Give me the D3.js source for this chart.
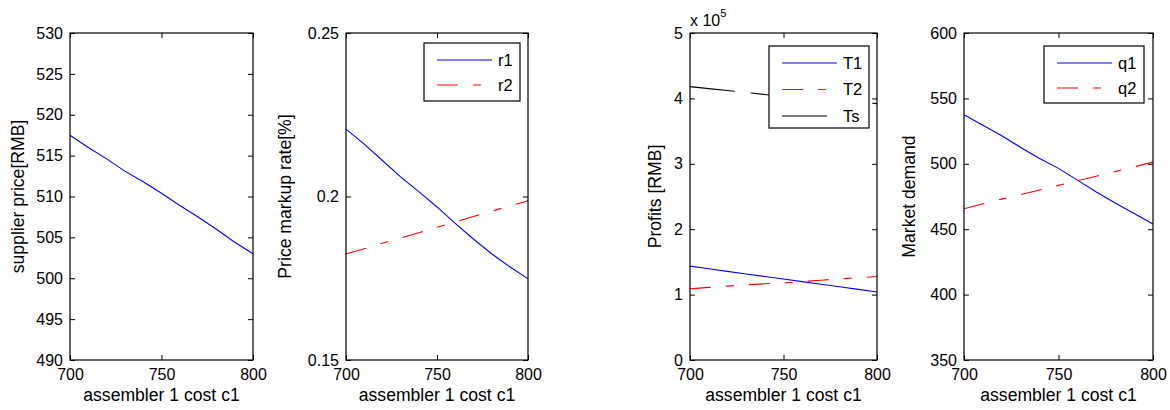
<!DOCTYPE html>
<html>
<head>
<meta charset="utf-8">
<script src="https://cdn.jsdelivr.net/npm/d3@7"></script>
<style>
  body { margin: 0; background: #fff; }
  svg text { font-family: "Liberation Sans", Arial, Helvetica, sans-serif; fill: #000; }
</style>
</head>
<body>
<svg id="chart"></svg>
<script>
// assembler 1 cost c1
const cost = [700, 710, 720, 730, 740, 750, 760, 770, 780, 790, 800]

// supplier price [RMB]
const supplierPrice = [517.5, 516.0, 514.6, 513.1, 511.8, 510.4, 508.9, 507.5, 506.0, 504.4, 503.0]

// price markup rate
const r1 = [0.2206, 0.2160, 0.2110, 0.2060, 0.2015, 0.1968, 0.1918, 0.1870, 0.1825, 0.1785, 0.1748]
const r2 = [0.1824, 0.1840, 0.1857, 0.1873, 0.1889, 0.1906, 0.1922, 0.1939, 0.1955, 0.1971, 0.1987]

// profits, x 10^5 RMB
const T1 = [1.435, 1.395, 1.355, 1.316, 1.277, 1.238, 1.198, 1.158, 1.119, 1.080, 1.040]
const T2 = [1.087, 1.110, 1.130, 1.150, 1.165, 1.180, 1.200, 1.220, 1.240, 1.258, 1.277]
const Ts = [4.18, 4.15, 4.12, 4.09, 4.06, 4.03, 4.01, 3.99, 3.96, 3.94, 3.92]

// market demand
const q1 = [537.5, 529.5, 521.5, 512.5, 504.0, 496.5, 487.5, 478.5, 470.0, 462.0, 454.0]
const q2 = [465.6, 469.5, 473.0, 476.5, 480.0, 483.5, 487.0, 490.5, 494.0, 497.7, 501.3]

const xTicks = [700, 750, 800]

const width = 1170, height = 410
const plotTop = 33, plotBottom = 360

const svg = d3.select("#chart")
              .attr("width", width)
              .attr("height", height)

const solid = null,
      dashed = "21,15,8,15",
      longDash = "45,16"

const panels = [
  {left: 70, right: 253, yDomain: [490, 530], yTicks: d3.range(490, 531, 5),
   yLabel: "supplier price[RMB]", labelX: 18,
   series: [{name: "p", values: supplierPrice, color: "#0000ff", dash: solid}],
   legend: null},
  {left: 346, right: 528, yDomain: [0.15, 0.25], yTicks: [0.15, 0.2, 0.25],
   yLabel: "Price markup rate[%]", labelX: 285,
   series: [{name: "r1", values: r1, color: "#0000ff", dash: solid},
            {name: "r2", values: r2, color: "#ff0000", dash: dashed}],
   legend: {x: 424, y: 43, w: 96, h: 58}},
  {left: 690, right: 877, yDomain: [0, 5], yTicks: d3.range(0, 6),
   yLabel: "Profits [RMB]", labelX: 655, exponent: true,
   series: [{name: "T1", values: T1, color: "#0000ff", dash: solid},
            {name: "T2", values: T2, color: "#ff0000", dash: dashed},
            {name: "Ts", values: Ts, color: "#000000", dash: longDash}],
   legend: {x: 769, y: 46, w: 100, h: 82}},
  {left: 964, right: 1153, yDomain: [350, 600], yTicks: d3.range(350, 601, 50),
   yLabel: "Market demand", labelX: 909,
   series: [{name: "q1", values: q1, color: "#0000ff", dash: solid},
            {name: "q2", values: q2, color: "#ff0000", dash: dashed}],
   legend: {x: 1044, y: 46, w: 100, h: 57}}
]

panels.forEach(p => {
  const x = d3.scaleLinear().domain([700, 800]).range([p.left, p.right])
  const y = d3.scaleLinear().domain(p.yDomain).range([plotBottom, plotTop])
  const g = svg.append("g")

  const fmt = d => String(+d.toFixed(2))

  // axes, ticks pointing inward on all four sides
  g.append("g")
   .attr("transform", `translate(0,${plotBottom})`)
   .call(d3.axisBottom(x).tickValues(xTicks).tickSize(-5).tickPadding(9).tickFormat(fmt))
  g.append("g")
   .attr("transform", `translate(0,${plotTop})`)
   .call(d3.axisTop(x).tickValues(xTicks).tickSize(-5).tickFormat(""))
  g.append("g")
   .attr("transform", `translate(${p.left},0)`)
   .call(d3.axisLeft(y).tickValues(p.yTicks).tickSize(-5).tickPadding(7).tickFormat(fmt))
  g.append("g")
   .attr("transform", `translate(${p.right},0)`)
   .call(d3.axisRight(y).tickValues(p.yTicks).tickSize(-5).tickFormat(""))

  g.selectAll(".domain").attr("stroke", "none")
  g.selectAll(".tick line").attr("stroke", "#000")
  g.selectAll(".tick text").style("font-size", "16px").attr("fill", "#000")

  const line = d3.line()
                 .x((d, i) => x(cost[i]))
                 .y(d => y(d))

  p.series.forEach(s => {
    g.append("path")
     .attr("d", line(s.values))
     .attr("fill", "none")
     .attr("stroke", s.color)
     .attr("stroke-width", 1.1)
     .attr("stroke-dasharray", s.dash)
  })

  // box
  g.append("rect")
   .attr("x", p.left).attr("y", plotTop)
   .attr("width", p.right - p.left).attr("height", plotBottom - plotTop)
   .attr("fill", "none").attr("stroke", "#000").attr("stroke-width", 1.2)

  // labels
  g.append("text")
   .attr("x", (p.left + p.right) / 2)
   .attr("y", 401)
   .attr("text-anchor", "middle")
   .style("font-size", "17.6px")
   .text("assembler 1 cost c1")

  g.append("text")
   .attr("transform", `translate(${p.labelX + 6},${(plotTop + plotBottom) / 2}) rotate(-90)`)
   .attr("text-anchor", "middle")
   .style("font-size", "17.6px")
   .text(p.yLabel)

  if (p.exponent) {
    const t = g.append("text")
               .attr("x", p.left)
               .attr("y", 26)
               .style("font-size", "16px")
    t.append("tspan").text("x 10")
    t.append("tspan").attr("dy", -9).style("font-size", "11px").text("5")
  }

  if (p.legend) {
    const L = p.legend
    const lg = g.append("g")
    lg.append("rect")
      .attr("x", L.x).attr("y", L.y)
      .attr("width", L.w).attr("height", L.h)
      .attr("fill", "#fff").attr("stroke", "#000").attr("stroke-width", 1.2)
    const step = p.series.length === 3 ? 26.5 : 25
    p.series.forEach((s, i) => {
      const yy = L.y + 17 + i * step
      lg.append("line")
        .attr("x1", L.x + 13).attr("x2", L.x + 68)
        .attr("y1", yy).attr("y2", yy)
        .attr("stroke", s.color)
        .attr("stroke-width", 1.1)
        .attr("stroke-dasharray", s.dash)
      lg.append("text")
        .attr("x", L.x + 74)
        .attr("y", yy)
        .attr("dy", "0.35em")
        .style("font-size", "16.5px")
        .text(s.name)
    })
  }
})
</script>
</body>
</html>
